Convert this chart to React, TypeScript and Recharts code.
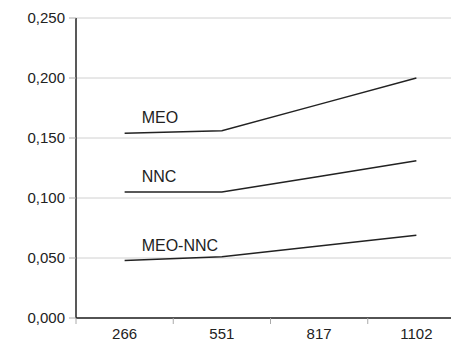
import React from 'react';
import { LineChart, Line, XAxis, YAxis, CartesianGrid, LabelList } from 'recharts';

const categories = ['266', '551', '817', '1102'];
const meo = [0.154, 0.156, 0.178, 0.2];
const nnc = [0.105, 0.105, 0.118, 0.131];
const meoNnc = [0.048, 0.051, 0.06, 0.069];
const yTicks = [0, 0.05, 0.1, 0.15, 0.2, 0.25];
const seriesNames = ['MEO', 'NNC', 'MEO-NNC'];

const data = categories.map((c, i) => ({ name: c, MEO: meo[i], NNC: nnc[i], 'MEO-NNC': meoNnc[i] }));

const X_TICK_SIZE = 6;
const X_TICK_MARGIN = 4;
const FONT = 'Liberation Sans, Arial, sans-serif';
const FS = 15;
const LABEL_FS = 16;

const XTick = (props: any) => {
  const { x, y, payload, width } = props;
  const bw = (width || 389) / categories.length;
  const axisY = y - X_TICK_SIZE - X_TICK_MARGIN;
  const left = x - bw / 2;
  return (
    <g>
      <line x1={left} x2={left} y1={axisY} y2={axisY + X_TICK_SIZE} stroke="#aaa" strokeWidth={1} />
      <text x={x} y={y} dy="0.71em" textAnchor="middle" fill="#222" fontSize={FS} fontFamily={FONT}>
        {payload.value}
      </text>
    </g>
  );
};

const makeLabel = (name: string) => (props: any) => {
  const { x, y, index } = props;
  if (index !== 0) return null;
  return (
    <text x={x + 17} y={y - 14} dominantBaseline="middle" fill="#222" fontSize={LABEL_FS} fontFamily={FONT}>
      {name}
    </text>
  );
};

export default function App() {
  return (
    <div style={{ position: 'absolute', left: 0, top: 0, width: 451, height: 342, overflow: 'hidden', background: '#fff' }}>
      <LineChart width={465} height={342} data={data} margin={{ top: 18, right: 0, bottom: 0, left: 0 }}>
        <CartesianGrid vertical={false} stroke="#d0d0d0" strokeWidth={1} />
        <XAxis
          dataKey="name"
          scale="band"
          height={24}
          tickLine={false}
          tickSize={X_TICK_SIZE}
          tickMargin={X_TICK_MARGIN}
          axisLine={{ stroke: '#222', strokeWidth: 1.5 }}
          tick={<XTick />}
          interval={0}
        />
        <YAxis
          width={76}
          domain={[0, 0.25]}
          ticks={yTicks}
          tickFormatter={(v: number) => v.toFixed(3).replace('.', ',')}
          tickSize={7}
          tickMargin={4}
          tickLine={{ stroke: '#aaa' }}
          axisLine={{ stroke: '#222', strokeWidth: 1.5 }}
          tick={{ fill: '#222', fontSize: FS, fontFamily: FONT }}
          interval={0}
        />
        {seriesNames.map((s) => (
          <Line key={s} type="linear" dataKey={s} stroke="#222" strokeWidth={1.5} dot={false} isAnimationActive={false}>
            <LabelList dataKey={s} content={makeLabel(s)} />
          </Line>
        ))}
      </LineChart>
    </div>
  );
}
